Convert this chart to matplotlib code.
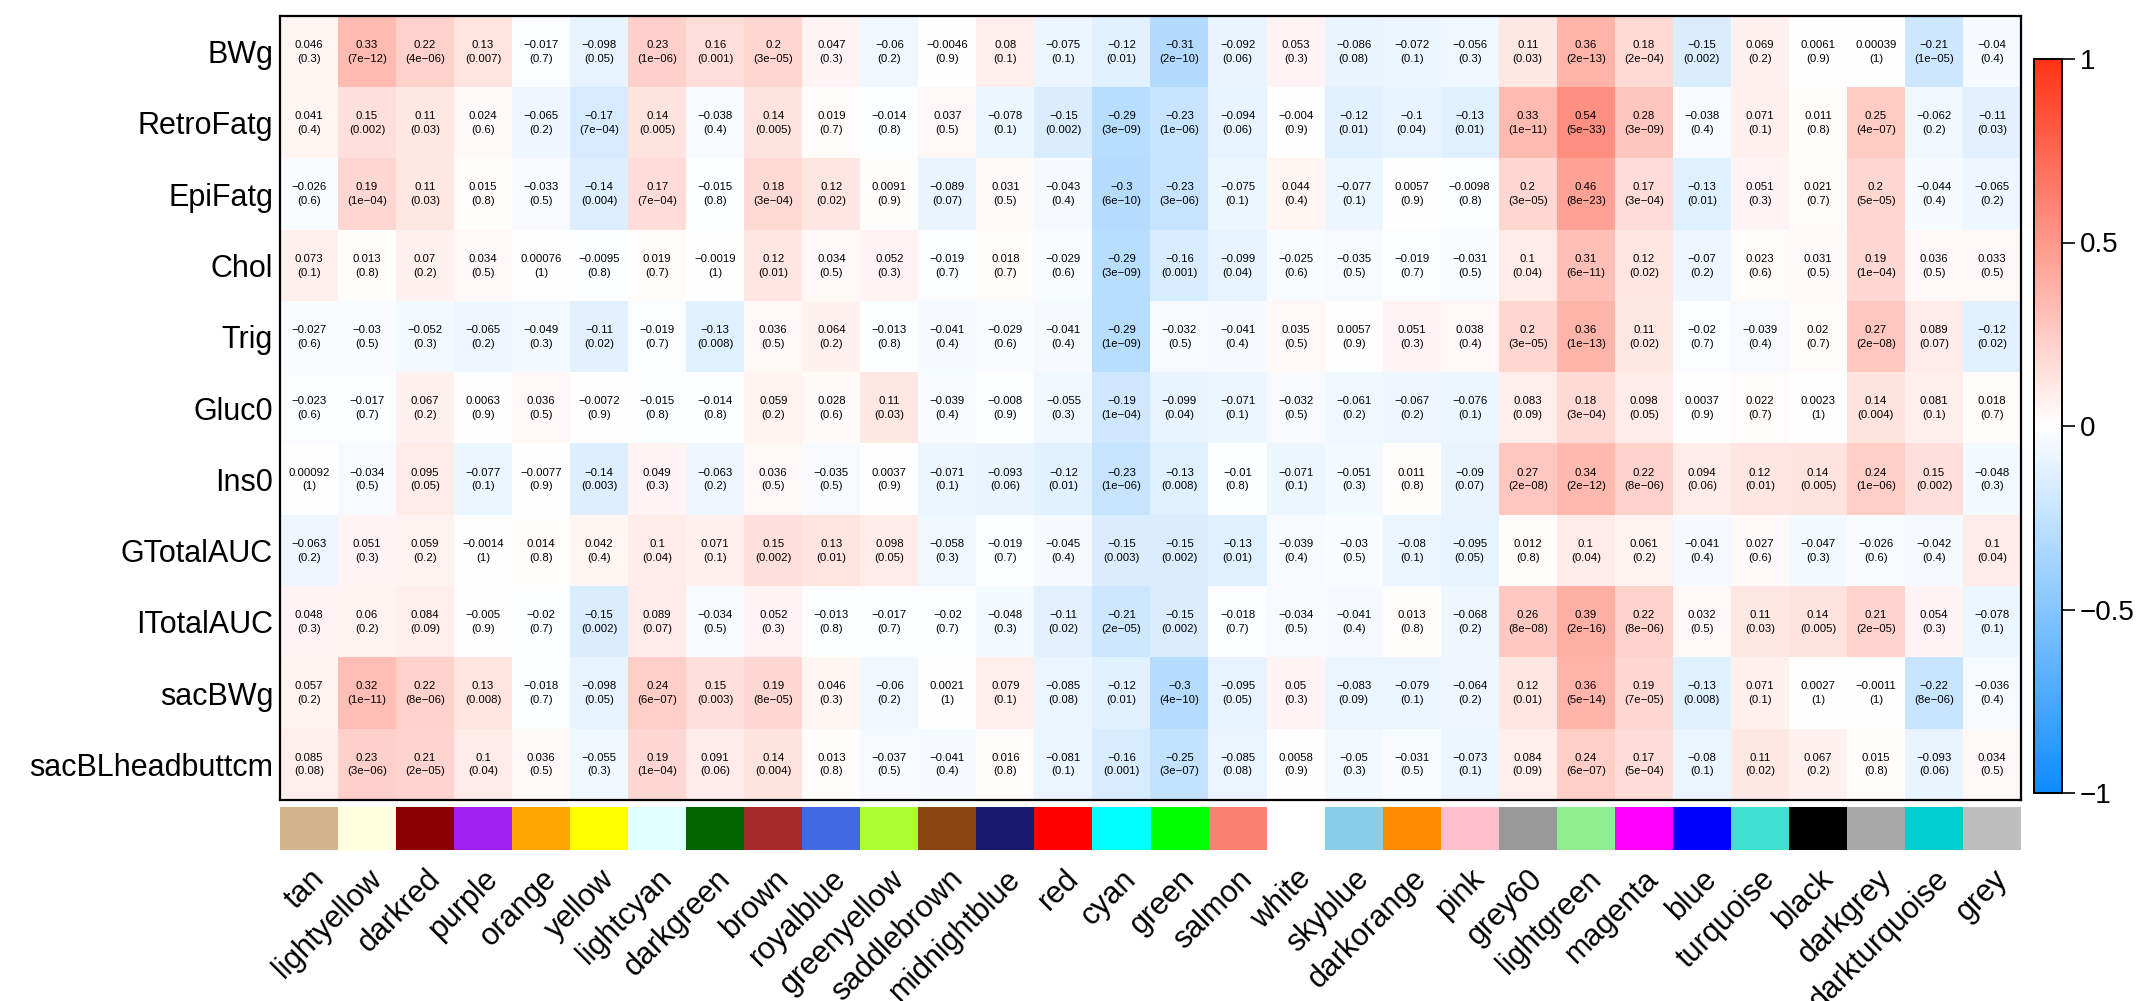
import numpy as np
import matplotlib
matplotlib.use("Agg")
import matplotlib.pyplot as plt
from matplotlib.colors import LinearSegmentedColormap, Normalize
from matplotlib.cm import ScalarMappable

plt.rcParams['font.family'] = ['Liberation Sans', 'DejaVu Sans']

# Module eigengenes (columns) and traits (rows)
modules = ["tan", "lightyellow", "darkred", "purple", "orange", "yellow", "lightcyan",
           "darkgreen", "brown", "royalblue", "greenyellow", "saddlebrown", "midnightblue",
           "red", "cyan", "green", "salmon", "white", "skyblue", "darkorange", "pink",
           "grey60", "lightgreen", "magenta", "blue", "turquoise", "black", "darkgrey",
           "darkturquoise", "grey"]

# R colour definitions for the module names
r_colors = {
    "tan": "#D2B48C", "lightyellow": "#FFFFE0", "darkred": "#8B0000", "purple": "#A020F0",
    "orange": "#FFA500", "yellow": "#FFFF00", "lightcyan": "#E0FFFF", "darkgreen": "#006400",
    "brown": "#A52A2A", "royalblue": "#4169E1", "greenyellow": "#ADFF2F",
    "saddlebrown": "#8B4513", "midnightblue": "#191970", "red": "#FF0000", "cyan": "#00FFFF",
    "green": "#00FF00", "salmon": "#FA8072", "white": "#FFFFFF", "skyblue": "#87CEEB",
    "darkorange": "#FF8C00", "pink": "#FFC0CB", "grey60": "#999999", "lightgreen": "#90EE90",
    "magenta": "#FF00FF", "blue": "#0000FF", "turquoise": "#40E0D0", "black": "#000000",
    "darkgrey": "#A9A9A9", "darkturquoise": "#00CED1", "grey": "#BEBEBE",
}

traits = ["BWg", "RetroFatg", "EpiFatg", "Chol", "Trig", "Gluc0", "Ins0",
          "GTotalAUC", "ITotalAUC", "sacBWg", "sacBLheadbuttcm"]

# Module-trait correlations and Student p-values, one list per trait
r_BWg = [0.046, 0.33, 0.22, 0.13, -0.017, -0.098, 0.23, 0.16,
         0.2, 0.047, -0.06, -0.0046, 0.08, -0.075, -0.12,
         -0.31, -0.092, 0.053, -0.086, -0.072, -0.056, 0.11, 0.36,
         0.18, -0.15, 0.069, 0.0061, 0.00039, -0.21, -0.04]
p_BWg = [0.3, 7e-12, 4e-06, 0.007, 0.7, 0.05, 1e-06, 0.001,
         3e-05, 0.3, 0.2, 0.9, 0.1, 0.1, 0.01,
         2e-10, 0.06, 0.3, 0.08, 0.1, 0.3, 0.03, 2e-13,
         2e-04, 0.002, 0.2, 0.9, 1, 1e-05, 0.4]

r_RetroFatg = [0.041, 0.15, 0.11, 0.024, -0.065, -0.17, 0.14, -0.038,
               0.14, 0.019, -0.014, 0.037, -0.078, -0.15, -0.29,
               -0.23, -0.094, -0.004, -0.12, -0.1, -0.13, 0.33, 0.54,
               0.28, -0.038, 0.071, 0.011, 0.25, -0.062, -0.11]
p_RetroFatg = [0.4, 0.002, 0.03, 0.6, 0.2, 7e-04, 0.005, 0.4,
               0.005, 0.7, 0.8, 0.5, 0.1, 0.002, 3e-09,
               1e-06, 0.06, 0.9, 0.01, 0.04, 0.01, 1e-11, 5e-33,
               3e-09, 0.4, 0.1, 0.8, 4e-07, 0.2, 0.03]

r_EpiFatg = [-0.026, 0.19, 0.11, 0.015, -0.033, -0.14, 0.17, -0.015,
             0.18, 0.12, 0.0091, -0.089, 0.031, -0.043, -0.3,
             -0.23, -0.075, 0.044, -0.077, 0.0057, -0.0098, 0.2, 0.46,
             0.17, -0.13, 0.051, 0.021, 0.2, -0.044, -0.065]
p_EpiFatg = [0.6, 1e-04, 0.03, 0.8, 0.5, 0.004, 7e-04, 0.8,
             3e-04, 0.02, 0.9, 0.07, 0.5, 0.4, 6e-10,
             3e-06, 0.1, 0.4, 0.1, 0.9, 0.8, 3e-05, 8e-23,
             3e-04, 0.01, 0.3, 0.7, 5e-05, 0.4, 0.2]

r_Chol = [0.073, 0.013, 0.07, 0.034, 0.00076, -0.0095, 0.019, -0.0019,
          0.12, 0.034, 0.052, -0.019, 0.018, -0.029, -0.29,
          -0.16, -0.099, -0.025, -0.035, -0.019, -0.031, 0.1, 0.31,
          0.12, -0.07, 0.023, 0.031, 0.19, 0.036, 0.033]
p_Chol = [0.1, 0.8, 0.2, 0.5, 1, 0.8, 0.7, 1,
          0.01, 0.5, 0.3, 0.7, 0.7, 0.6, 3e-09,
          0.001, 0.04, 0.6, 0.5, 0.7, 0.5, 0.04, 6e-11,
          0.02, 0.2, 0.6, 0.5, 1e-04, 0.5, 0.5]

r_Trig = [-0.027, -0.03, -0.052, -0.065, -0.049, -0.11, -0.019, -0.13,
          0.036, 0.064, -0.013, -0.041, -0.029, -0.041, -0.29,
          -0.032, -0.041, 0.035, 0.0057, 0.051, 0.038, 0.2, 0.36,
          0.11, -0.02, -0.039, 0.02, 0.27, 0.089, -0.12]
p_Trig = [0.6, 0.5, 0.3, 0.2, 0.3, 0.02, 0.7, 0.008,
          0.5, 0.2, 0.8, 0.4, 0.6, 0.4, 1e-09,
          0.5, 0.4, 0.5, 0.9, 0.3, 0.4, 3e-05, 1e-13,
          0.02, 0.7, 0.4, 0.7, 2e-08, 0.07, 0.02]

r_Gluc0 = [-0.023, -0.017, 0.067, 0.0063, 0.036, -0.0072, -0.015, -0.014,
           0.059, 0.028, 0.11, -0.039, -0.008, -0.055, -0.19,
           -0.099, -0.071, -0.032, -0.061, -0.067, -0.076, 0.083, 0.18,
           0.098, 0.0037, 0.022, 0.0023, 0.14, 0.081, 0.018]
p_Gluc0 = [0.6, 0.7, 0.2, 0.9, 0.5, 0.9, 0.8, 0.8,
           0.2, 0.6, 0.03, 0.4, 0.9, 0.3, 1e-04,
           0.04, 0.1, 0.5, 0.2, 0.2, 0.1, 0.09, 3e-04,
           0.05, 0.9, 0.7, 1, 0.004, 0.1, 0.7]

r_Ins0 = [0.00092, -0.034, 0.095, -0.077, -0.0077, -0.14, 0.049, -0.063,
          0.036, -0.035, 0.0037, -0.071, -0.093, -0.12, -0.23,
          -0.13, -0.01, -0.071, -0.051, 0.011, -0.09, 0.27, 0.34,
          0.22, 0.094, 0.12, 0.14, 0.24, 0.15, -0.048]
p_Ins0 = [1, 0.5, 0.05, 0.1, 0.9, 0.003, 0.3, 0.2,
          0.5, 0.5, 0.9, 0.1, 0.06, 0.01, 1e-06,
          0.008, 0.8, 0.1, 0.3, 0.8, 0.07, 2e-08, 2e-12,
          8e-06, 0.06, 0.01, 0.005, 1e-06, 0.002, 0.3]

r_GTotalAUC = [-0.063, 0.051, 0.059, -0.0014, 0.014, 0.042, 0.1, 0.071,
               0.15, 0.13, 0.098, -0.058, -0.019, -0.045, -0.15,
               -0.15, -0.13, -0.039, -0.03, -0.08, -0.095, 0.012, 0.1,
               0.061, -0.041, 0.027, -0.047, -0.026, -0.042, 0.1]
p_GTotalAUC = [0.2, 0.3, 0.2, 1, 0.8, 0.4, 0.04, 0.1,
               0.002, 0.01, 0.05, 0.3, 0.7, 0.4, 0.003,
               0.002, 0.01, 0.4, 0.5, 0.1, 0.05, 0.8, 0.04,
               0.2, 0.4, 0.6, 0.3, 0.6, 0.4, 0.04]

r_ITotalAUC = [0.048, 0.06, 0.084, -0.005, -0.02, -0.15, 0.089, -0.034,
               0.052, -0.013, -0.017, -0.02, -0.048, -0.11, -0.21,
               -0.15, -0.018, -0.034, -0.041, 0.013, -0.068, 0.26, 0.39,
               0.22, 0.032, 0.11, 0.14, 0.21, 0.054, -0.078]
p_ITotalAUC = [0.3, 0.2, 0.09, 0.9, 0.7, 0.002, 0.07, 0.5,
               0.3, 0.8, 0.7, 0.7, 0.3, 0.02, 2e-05,
               0.002, 0.7, 0.5, 0.4, 0.8, 0.2, 8e-08, 2e-16,
               8e-06, 0.5, 0.03, 0.005, 2e-05, 0.3, 0.1]

r_sacBWg = [0.057, 0.32, 0.22, 0.13, -0.018, -0.098, 0.24, 0.15,
            0.19, 0.046, -0.06, 0.0021, 0.079, -0.085, -0.12,
            -0.3, -0.095, 0.05, -0.083, -0.079, -0.064, 0.12, 0.36,
            0.19, -0.13, 0.071, 0.0027, -0.0011, -0.22, -0.036]
p_sacBWg = [0.2, 1e-11, 8e-06, 0.008, 0.7, 0.05, 6e-07, 0.003,
            8e-05, 0.3, 0.2, 1, 0.1, 0.08, 0.01,
            4e-10, 0.05, 0.3, 0.09, 0.1, 0.2, 0.01, 5e-14,
            7e-05, 0.008, 0.1, 1, 1, 8e-06, 0.4]

r_sacBLheadbuttcm = [0.085, 0.23, 0.21, 0.1, 0.036, -0.055, 0.19, 0.091,
                     0.14, 0.013, -0.037, -0.041, 0.016, -0.081, -0.16,
                     -0.25, -0.085, 0.0058, -0.05, -0.031, -0.073, 0.084, 0.24,
                     0.17, -0.08, 0.11, 0.067, 0.015, -0.093, 0.034]
p_sacBLheadbuttcm = [0.08, 3e-06, 2e-05, 0.04, 0.5, 0.3, 1e-04, 0.06,
                     0.004, 0.8, 0.5, 0.4, 0.8, 0.1, 0.001,
                     3e-07, 0.08, 0.9, 0.3, 0.5, 0.1, 0.09, 6e-07,
                     5e-04, 0.1, 0.02, 0.2, 0.8, 0.06, 0.5]

cor = np.array([r_BWg, r_RetroFatg, r_EpiFatg, r_Chol, r_Trig, r_Gluc0, r_Ins0,
                r_GTotalAUC, r_ITotalAUC, r_sacBWg, r_sacBLheadbuttcm])
pval = np.array([p_BWg, p_RetroFatg, p_EpiFatg, p_Chol, p_Trig, p_Gluc0, p_Ins0,
                 p_GTotalAUC, p_ITotalAUC, p_sacBWg, p_sacBLheadbuttcm])

MINUS = "\u2212"


def fmt_r(v):
    return f"{v:.2g}".replace("-", MINUS)


def fmt_p(p):
    s = f"{p:.0e}" if p < 0.001 else f"{p:.1g}"
    return "(" + s.replace("-", MINUS) + ")"


# WGCNA-style blue-white-red palette
cmap = LinearSegmentedColormap.from_list(
    "blueWhiteRed", [(0.05, 0.55, 1.0), (1, 1, 1), (1.0, 0.2, 0.09)], N=256)
norm = Normalize(vmin=-1, vmax=1)

W, H = 2144, 1001
fig = plt.figure(figsize=(W / 100, H / 100), dpi=100)


def px_axes(x0, y0, x1, y1):
    return fig.add_axes([x0 / W, 1 - y1 / H, (x1 - x0) / W, (y1 - y0) / H])


n_rows, n_cols = cor.shape

# Heatmap
ax = px_axes(280, 16, 2021, 800)
ax.imshow(cor, cmap=cmap, norm=norm, aspect="auto", interpolation="nearest",
          extent=(-0.5, n_cols - 0.5, n_rows - 0.5, -0.5))
for i in range(n_rows):
    for j in range(n_cols):
        ax.text(j, i - 0.095, fmt_r(cor[i, j]), ha="center", va="center",
                fontsize=8.2, color="black")
        ax.text(j, i + 0.1, fmt_p(pval[i, j]), ha="center", va="center",
                fontsize=8.2, color="black")
ax.set_xlim(-0.5, n_cols - 0.5)
ax.set_ylim(n_rows - 0.5, -0.5)
ax.set_xticks([])
ax.set_yticks(range(n_rows))
ax.set_yticklabels(traits, fontsize=22)
ax.tick_params(axis="y", length=0, pad=5)
for s in ax.spines.values():
    s.set_linewidth(1.6)
    s.set_color("black")

# Module colour bar beneath the heatmap
axc = px_axes(280, 807, 2021, 850)
for j, m in enumerate(modules):
    axc.bar(j, 1, width=1.0, color=r_colors[m], edgecolor="none")
axc.set_xlim(-0.5, n_cols - 0.5)
axc.set_ylim(0, 1)
axc.set_yticks([])
axc.set_xticks(range(n_cols))
axc.set_xticklabels(modules, fontsize=22, rotation=45, ha="right", va="top",
                    rotation_mode="anchor")
axc.tick_params(axis="x", length=0, pad=10)
for s in axc.spines.values():
    s.set_visible(False)

# Colour scale legend
axl = px_axes(2034, 59, 2062, 793)
cb = fig.colorbar(ScalarMappable(norm=norm, cmap=cmap), cax=axl,
                  ticks=[-1, -0.5, 0, 0.5, 1])
cb.ax.set_yticklabels(["\u22121", "\u22120.5", "0", "0.5", "1"])
cb.ax.tick_params(labelsize=20, length=9, width=1.2, pad=4)
cb.outline.set_linewidth(1.4)

fig.savefig("out.png", dpi=100)
